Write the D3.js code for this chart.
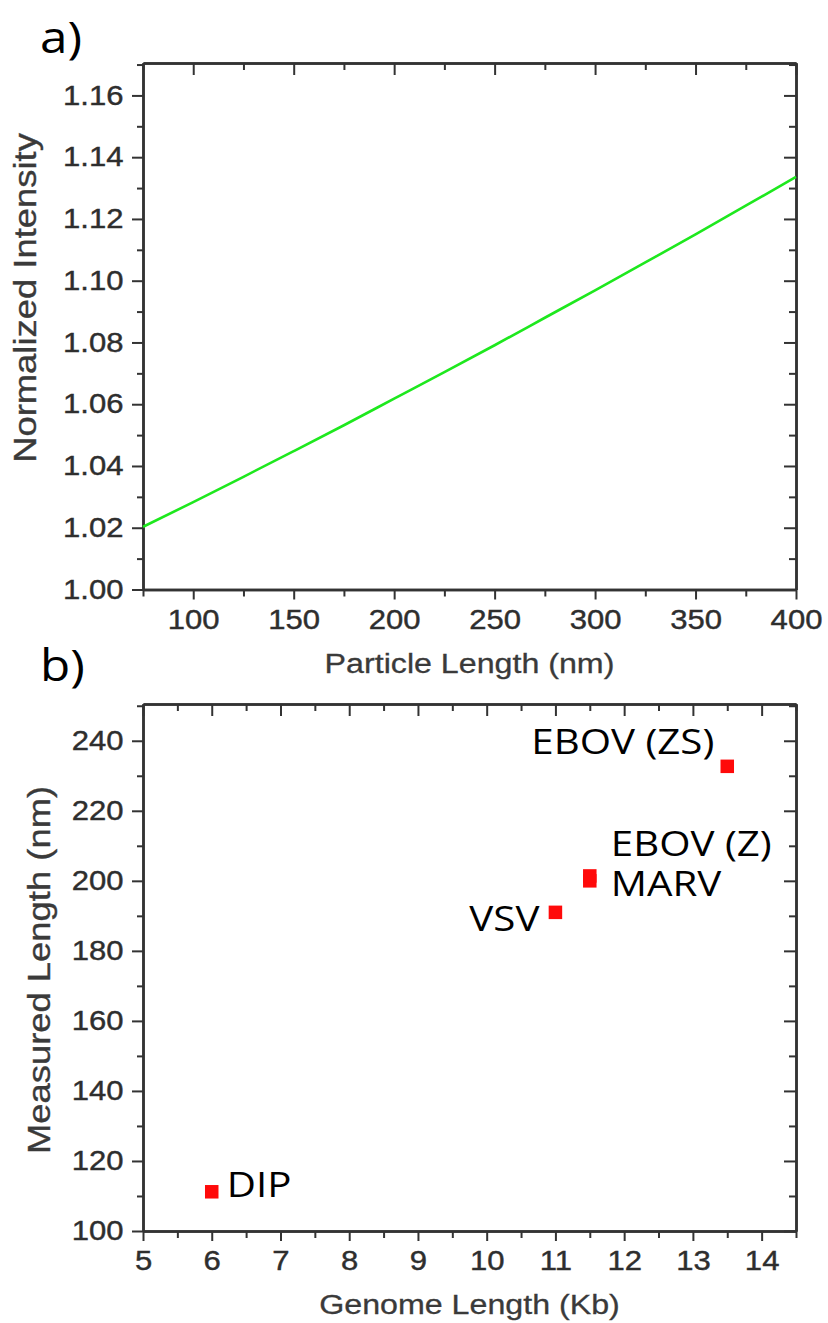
<!DOCTYPE html>
<html lang="en">
<head>
  <meta charset="UTF-8" />
  <title>Particle length and genome length</title>
  <script src="https://d3js.org/d3.v7.min.js"></script>
  <style>
    html, body { margin: 0; padding: 0; background: #fff; }
    svg { display: block; }
    .tick text {
      font-family: 'Liberation Sans', Arial, sans-serif;
      font-size: 27px;
      fill: #2e2e2e;
      stroke: #2e2e2e;
      stroke-width: 0.4px;
    }
    .tick line { stroke: #333; stroke-width: 2px; }
    .domain { stroke: #333; stroke-width: 2.5px; }
    .axis-title {
      font-family: 'Liberation Sans', Arial, sans-serif;
      font-size: 28px;
      fill: #3a3a3a;
      stroke: #3a3a3a;
      stroke-width: 0.3px;
    }
    .panel-label, .point-label {
      font-family: 'Open Sans', sans-serif;
      fill: #000;
    }
    .panel-label { font-size: 43px; }
    .point-label { font-size: 35px; }
  </style>
</head>
<body>
<svg width="828" height="1323"></svg>

<script>
// panel a) : normalized intensity vs particle length
const particleLength = [75, 100, 125, 150, 175, 200, 225, 250, 275, 300, 325, 350, 375, 400];
const normIntensity  = [1.0203, 1.0283, 1.0365, 1.0448, 1.0532, 1.0618, 1.0704, 1.0791, 1.0880, 1.0969, 1.1059, 1.1150, 1.1243, 1.1336];
const particleTicks  = [100, 150, 200, 250, 300, 350, 400];
const intensityTicks = [1.00, 1.02, 1.04, 1.06, 1.08, 1.10, 1.12, 1.14, 1.16];

// panel b) : measured length vs genome length
const virusNames  = ["DIP", "VSV", "MARV", "EBOV (Z)", "EBOV (ZS)"];
const genomeKb    = [6, 11, 11.5, 11.5, 13.5];
const measuredNm  = [111.2, 191, 200.0, 201.4, 232.7];
const genomeTicks = [5, 6, 7, 8, 9, 10, 11, 12, 13, 14];
const lengthTicks = [100, 120, 140, 160, 180, 200, 220, 240];

// label placement next to each marker: [dx, dy, anchor]
const labelPos = {
  "DIP":       [15, 5, "start"],
  "VSV":       [-16, 19, "end"],
  "MARV":      [21, 15, "start"],
  "EBOV (Z)":  [21, -20, "start"],
  "EBOV (ZS)": [-13, -12, "end"]
};

const SX = 1.15;   // text in the source image is a bit wide
const SY = 1.3;    // rotated titles run longer than their glyph height suggests
const svg = d3.select("svg");
const L = 143, R = 796;

function minorsOf(ticks) {
  const step = ticks[1] - ticks[0];
  const out = ticks.map(t => t - step / 2);
  out.push(ticks[ticks.length - 1] + step / 2);
  return out;
}

function drawPanel(cfg) {
  const g = svg.append("g");
  const x = d3.scaleLinear().domain(cfg.xDomain).range([L, R]);
  const y = d3.scaleLinear().domain(cfg.yDomain).range([cfg.bottom, cfg.top]);
  const xMinor = minorsOf(cfg.xTicks).filter(v => v >= cfg.xDomain[0] && v <= cfg.xDomain[1]);
  const yMinor = minorsOf(cfg.yTicks).filter(v => v > cfg.yDomain[0] && v <= cfg.yDomain[1]);

  const put = (axis, tx, ty) => g.append("g")
    .attr("transform", `translate(${tx},${ty})`)
    .call(axis.tickSizeOuter(0));

  // minor ticks first, no labels
  put(d3.axisBottom(x).tickValues(xMinor).tickSize(7).tickFormat(""), 0, cfg.bottom);
  put(d3.axisTop(x).tickValues(xMinor).tickSize(-7).tickFormat(""), 0, cfg.top);
  put(d3.axisLeft(y).tickValues(yMinor).tickSize(6).tickFormat(""), L, 0);
  put(d3.axisRight(y).tickValues(yMinor).tickSize(-7).tickFormat(""), R, 0);

  put(d3.axisTop(x).tickValues(cfg.xTicks).tickSize(-12).tickFormat(""), 0, cfg.top);
  put(d3.axisRight(y).tickValues(cfg.yTicks).tickSize(-12).tickFormat(""), R, 0);
  put(d3.axisBottom(x).tickValues(cfg.xTicks).tickSize(10).tickPadding(10).tickFormat(cfg.xFmt), 0, cfg.bottom);
  put(d3.axisLeft(y).tickValues(cfg.yTicks).tickSize(11).tickPadding(6).tickFormat(cfg.yFmt), L, 0);

  g.selectAll(".tick text").attr("transform", `scale(${SX},1)`);

  g.append("text")
    .attr("class", "axis-title")
    .attr("text-anchor", "middle")
    .attr("transform", `translate(${(L + R) / 2},${cfg.bottom + 83}) scale(${SX},1)`)
    .text(cfg.xTitle);

  g.append("text")
    .attr("class", "axis-title")
    .attr("text-anchor", "middle")
    .attr("transform", `translate(${cfg.yTitleX},${cfg.yTitleY}) scale(${SX},${SY}) rotate(-90)`)
    .text(cfg.yTitle);

  g.append("text")
    .attr("class", "panel-label")
    .attr("transform", `translate(40,${cfg.labelY}) scale(${SX},1)`)
    .text(cfg.label);

  return { g, x, y };
}

// ---- a)
const a = drawPanel({
  xDomain: [75, 400], yDomain: [1.00, 1.1705],
  top: 63, bottom: 589.5,
  xTicks: particleTicks, yTicks: intensityTicks,
  xFmt: d3.format("d"), yFmt: d3.format(".2f"),
  xTitle: "Particle Length (nm)", yTitle: "Normalized Intensity",
  yTitleX: 36, yTitleY: 298, label: "a)", labelY: 53
});

const line = d3.line()
  .x((d, i) => a.x(particleLength[i]))
  .y(d => a.y(d))
  .curve(d3.curveMonotoneX);

a.g.append("path")
  .datum(normIntensity)
  .attr("d", line)
  .attr("fill", "none")
  .attr("stroke", "#1ee81e")
  .attr("stroke-width", 2.6);

// ---- b)
const b = drawPanel({
  xDomain: [5, 14.5], yDomain: [100, 250.5],
  top: 704, bottom: 1231,
  xTicks: genomeTicks, yTicks: lengthTicks,
  xFmt: d3.format("d"), yFmt: d3.format("d"),
  xTitle: "Genome Length (Kb)", yTitle: "Measured Length (nm)",
  yTitleX: 50, yTitleY: 970, label: "b)", labelY: 681
});

const pts = virusNames.map((name, i) => ({ name, gx: genomeKb[i], len: measuredNm[i] }));
const size = 13.5;

b.g.selectAll("rect.pt")
  .data(pts)
  .enter()
  .append("rect")
  .attr("class", "pt")
  .attr("x", d => b.x(d.gx) - size / 2)
  .attr("y", d => b.y(d.len) - size / 2)
  .attr("width", size)
  .attr("height", size)
  .attr("fill", "#ff0a0a");

b.g.selectAll("text.point-label")
  .data(pts)
  .enter()
  .append("text")
  .attr("class", "point-label")
  .attr("text-anchor", d => labelPos[d.name][2])
  .attr("transform", d =>
    `translate(${b.x(d.gx) + labelPos[d.name][0]},${b.y(d.len) + labelPos[d.name][1]}) scale(${SX},1)`)
  .text(d => d.name);
</script>
</body>
</html>
